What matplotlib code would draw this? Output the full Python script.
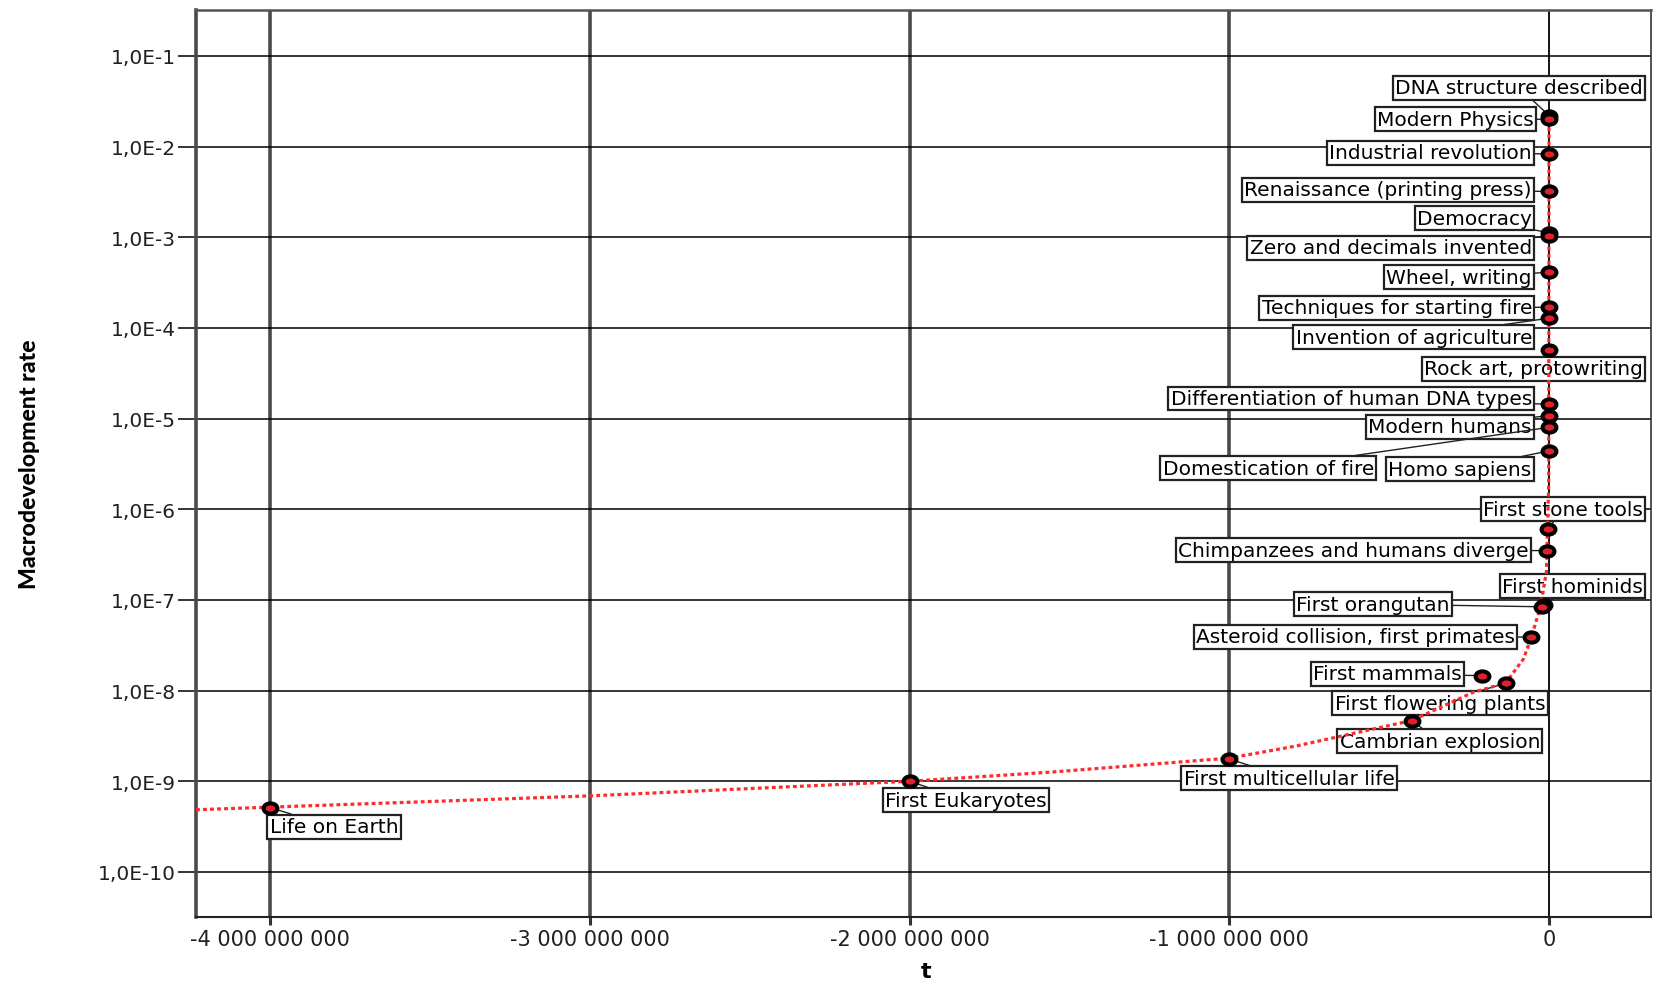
import numpy as np
import matplotlib
matplotlib.use("Agg")
import matplotlib.pyplot as plt
import matplotlib.path as mpath
from matplotlib.ticker import FixedLocator, FixedFormatter

# Events: time (years, negative = before present) and macrodevelopment rate
events = [
    "DNA structure described", "Modern Physics", "Industrial revolution",
    "Renaissance (printing press)", "Democracy", "Zero and decimals invented",
    "Wheel, writing", "Techniques for starting fire", "Invention of agriculture",
    "Rock art, protowriting", "Differentiation of human DNA types", "Modern humans",
    "Domestication of fire", "Homo sapiens", "First stone tools",
    "Chimpanzees and humans diverge", "First hominids", "First orangutan",
    "Asteroid collision, first primates", "First mammals", "First flowering plants",
    "Cambrian explosion", "First multicellular life", "First Eukaryotes", "Life on Earth",
]
t_years = [
    -50, -100, -240, -550, -2500, -1500, -5500, -12000, -11000,
    -40000, -140000, -200000, -400000, -500000, -2.6e6,
    -6.0e6, -1.6e7, -2.2e7, -5.5e7, -2.1e8, -1.36e8,
    -4.3e8, -1.0e9, -2.0e9, -4.0e9,
]
rate = [
    2.2e-2, 2.0e-2, 8.3e-3, 3.2e-3, 1.12e-3, 1.02e-3, 4.1e-4, 1.69e-4, 1.28e-4,
    5.7e-5, 1.44e-5, 1.08e-5, 8.0e-6, 4.4e-6, 6.1e-7,
    3.5e-7, 8.8e-8, 8.4e-8, 3.9e-8, 1.46e-8, 1.21e-8,
    4.67e-9, 1.76e-9, 1.0e-9, 5.1e-10,
]

# fitted trend (dotted red curve)
trend_t = [-4.232e9, -3.0e9, -2.0e9, -1.56e9, -1.0e9, -7.9e8, -4.3e8, -2.36e8,
           -1.36e8, -8.0e7, -5.5e7, -2.6e7, -8.0e6, -1.0e6, -100]
trend_rate = [4.85e-10, 6.9e-10, 1.0e-9, 1.26e-9, 1.8e-9, 2.45e-9, 4.67e-9, 9.6e-9,
              1.21e-8, 2.23e-8, 3.9e-8, 8.6e-8, 2.07e-7, 2.0e-6, 2.1e-2]

x_ticks = [-4e9, -3e9, -2e9, -1e9, 0]
y_exp = list(range(-1, -11, -1))

# label boxes: anchor in image pixels (x, y from top) and alignment
lab_x = [1643, 1534, 1532, 1532, 1532, 1532, 1532, 1532, 1532,
         1643, 1532, 1532, 1374, 1388, 1643,
         1529, 1643, 1450, 1515, 1462, 1440,
         1540, 1289, 966, 334]
lab_y = [88.6, 120.2, 153.9, 190.8, 219.3, 248.8, 278.3, 308.9, 338.4,
         370, 399.5, 428, 469.1, 470.2, 510.2,
         551.3, 587.2, 605.1, 637.8, 674.7, 704.2,
         742.2, 779.1, 801.2, 827.6]
lab_ha = ["right"] * 13 + ["left", "right", "right", "right", "right", "right",
                           "right", "center", "right", "center", "center", "center"]

W, H = 1653, 987
fig = plt.figure(figsize=(W / 100, H / 100), dpi=100)
ax = fig.add_axes([196 / W, 1 - 918 / H, (1651 - 196) / W, (918 - 11) / H])
ax.set_yscale("log")
ax.set_xlim(-4.232e9, 0.319e9)
ax.set_ylim(10 ** -10.497, 10 ** -0.494)

ax.xaxis.set_major_locator(FixedLocator(x_ticks))
ax.xaxis.set_major_formatter(FixedFormatter([f"{int(v):,}".replace(",", " ") for v in x_ticks]))
ax.yaxis.set_major_locator(FixedLocator([10.0 ** e for e in y_exp]))
ax.yaxis.set_major_formatter(FixedFormatter([f"1,0E{e}" for e in y_exp]))
ax.yaxis.set_minor_locator(FixedLocator([]))
ax.tick_params(axis="y", length=13, width=1.1, color="black", pad=1.5,
               labelsize=14.5, labelcolor="#202020")
ax.tick_params(axis="x", length=6, width=2.2, color="#333333", pad=2.5,
               labelsize=15, labelcolor="#202020")

ax.set_axisbelow(True)
ax.grid(axis="y", color="black", lw=1.1)
ax.grid(axis="x", color="#4a4a4a", lw=2.6)
ax.get_xgridlines()[-1].set_linewidth(1.3)
ax.get_xgridlines()[-1].set_color("black")

ax.spines["left"].set(color="#4a4a4a", lw=2.6)
ax.spines["top"].set(color="#555555", lw=1.8)
ax.spines["bottom"].set(color="#222222", lw=1.5)
ax.spines["right"].set(color="#333333", lw=1.2)

# trend and event markers
circ = mpath.Path.unit_circle()
ellipse = mpath.Path(circ.vertices * [1.35, 1.0], circ.codes)
ax.plot(trend_t, trend_rate, color="#ff2a2a", lw=2.3, ls=(0, (1.2, 1.0)), zorder=4)
ax.plot(t_years, rate, ls="none", marker=ellipse, ms=10, mfc="#e0202a",
        mec="black", mew=2.9, zorder=5)

for name, tx, ry, lx, ly, ha in zip(events, t_years, rate, lab_x, lab_y, lab_ha):
    ax.annotate(name, xy=(tx, ry), xytext=(lx, H - ly), textcoords="figure pixels",
                ha=ha, va="center", fontsize=14.5, zorder=3, annotation_clip=False,
                bbox=dict(boxstyle="square,pad=0.12", fc="white", ec="#222222", lw=1.6),
                arrowprops=dict(arrowstyle="-", color="#222222", lw=1.0,
                                shrinkA=0, shrinkB=3))

ylab = fig.text(30 / W, 1 - 464 / H, "Macrodevelopment rate", rotation=90, ha="center",
                va="center", fontsize=19, fontweight="black",
                family=["Lato", "DejaVu Sans"])
# size the axis title so it spans about 249 px
renderer = fig.canvas.get_renderer()
span = ylab.get_window_extent(renderer).height
ylab.set_fontsize(19 * 249 / span)

fig.text(926 / W, 1 - 972 / H, "t", ha="center", va="center", fontsize=16,
         fontweight="bold")

fig.savefig("out.png", dpi=100)
